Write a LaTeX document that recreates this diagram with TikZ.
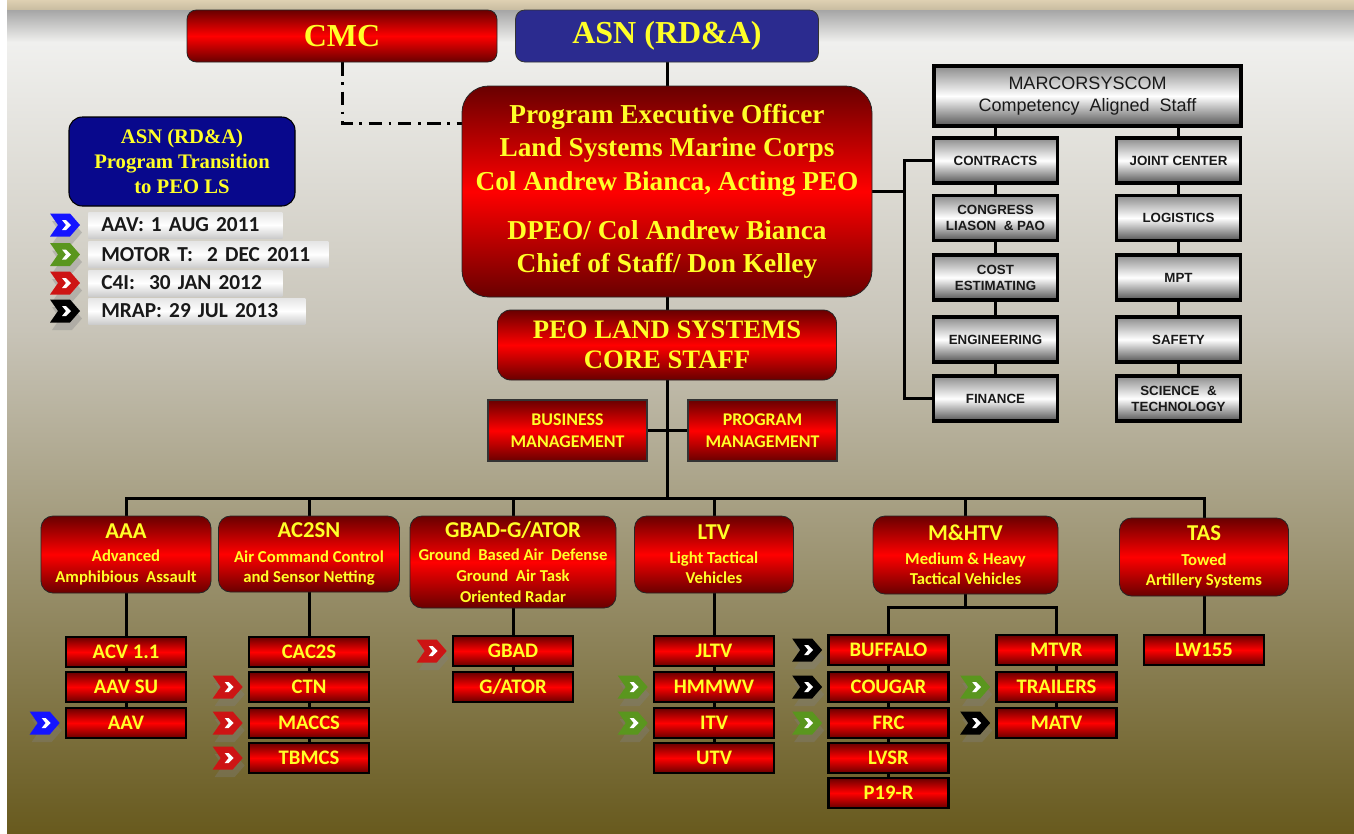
\documentclass[tikz,border=0pt]{standalone}
\usepackage{fontspec}
\setmainfont{Liberation Serif}
\newfontfamily\calfont{Carlito}
\newfontfamily\arifont{Liberation Sans}
\usetikzlibrary{calc}
\pgfdeclarelayer{bg}
\pgfdeclarelayer{lines}
\pgfsetlayers{bg,lines,main}
\definecolor{dred}{RGB}{105,0,0}
\definecolor{bred}{RGB}{255,0,0}
\definecolor{ylw}{RGB}{255,255,40}
\definecolor{navyA}{RGB}{43,43,143}
\definecolor{navyB}{RGB}{8,8,140}
\definecolor{chblue}{RGB}{20,20,255}
\definecolor{chgreen}{RGB}{90,150,30}
\definecolor{chred}{RGB}{205,20,20}
\definecolor{olivebg}{RGB}{104,90,30}
\definecolor{midbg}{RGB}{200,196,184}
\definecolor{lightbg}{RGB}{240,240,238}
\definecolor{beigeA}{RGB}{222,208,178}
\definecolor{beigeB}{RGB}{200,188,160}
\definecolor{gtop}{RGB}{140,140,140}
\definecolor{gbot}{RGB}{85,85,85}
\definecolor{darktxt}{RGB}{25,25,25}
\tikzset{
  conn/.style={line width=2.25pt, black},
  redshade/.style={top color=dred, bottom color=dred, middle color=bred},
  redround/.style={redshade, rounded corners=7pt, draw=black!85, line width=0.6pt, text=ylw, align=center, inner sep=0pt},
  serifbig/.style={font=\bfseries\fontsize{24}{26}\selectfont},
  lvltwo/.style={redround, rounded corners=9pt, font=\calfont\bfseries\fontsize{12.5}{15.5}\selectfont},
  redrect/.style={redshade, draw=black, line width=2pt, text=ylw, align=center, inner sep=0pt,
     minimum width=120*0.75pt, minimum height=30*0.75pt, font=\calfont\bfseries\fontsize{15.5}{16}\selectfont},
  mgmt/.style={redshade, draw=black!80, line width=0.8pt, text=ylw, align=center, inner sep=0pt,
     minimum height=61*0.75pt, font=\calfont\bfseries\fontsize{13.4}{16.5}\selectfont},
  graybox/.style={top color=gtop, bottom color=gbot, middle color=white, draw=black, line width=2.4pt,
     text=darktxt, align=center, inner sep=0pt, minimum width=124*0.75pt, minimum height=45*0.75pt,
     font=\arifont\bfseries\fontsize{10}{12}\selectfont},
  legbox/.style={top color=gray!20, bottom color=gray!40, middle color=white, anchor=west,
     inner ysep=0pt, inner xsep=13*0.75pt, align=left,
     minimum height=26*0.75pt, text=darktxt, font=\calfont\bfseries\fontsize{16}{18}\selectfont},
}
\newcommand\mychev[3]{%
  \begin{scope}[shift={($(#1.west)+(#2,0)$)}]
    \fill[gray, opacity=0.35] (2,-4) -- (22,-4) -- (32,7.5) -- (22,19) -- (2,19) -- (10,7.5) -- cycle;
    \fill[#3] (0,-11.5) -- (20,-11.5) -- (30,0) -- (20,11.5) -- (0,11.5) -- (8,0) -- cycle;
    \fill[white] (12,-5) -- (16,-5) -- (21,0) -- (16,5) -- (12,5) -- (16,0) -- cycle;
  \end{scope}}
\begin{document}
\begin{tikzpicture}[x=0.75pt,y=-0.75pt]
\useasboundingbox (0,0) rectangle (1354,833);
\begin{pgfonlayer}{bg}
  \fill[white] (0,0) rectangle (1354,833);
  \shade[top color=beigeA, bottom color=beigeB] (7,0) rectangle (1354,10);
  \shade[top color=gray!70, bottom color=lightbg] (7,10) rectangle (1354,42);
  \shade[top color=lightbg, bottom color=midbg] (7,42) rectangle (1354,330);
  \shade[top color=midbg, bottom color=olivebg] (7,330) rectangle (1354,833);
\end{pgfonlayer}

% top level
\node[redround, serifbig, minimum width=310*0.75pt, minimum height=52*0.75pt] (cmc) at (342,36) {CMC};
\node[fill=navyA, draw=black!80, line width=0.6pt, rounded corners=7pt, text=ylw, serifbig, inner sep=0pt,
      minimum width=303*0.75pt, minimum height=52*0.75pt] (asn) at (667,36) {ASN (RD\&A)};
\node[redround, rounded corners=20pt, minimum width=410*0.75pt, minimum height=211*0.75pt,
      font=\bfseries\fontsize{20.5}{25}\selectfont] (peo) at (667,191.5)
  {Program Executive Officer\\Land Systems Marine Corps\\Col Andrew Bianca, Acting PEO\\[12pt]DPEO/ Col Andrew Bianca\\Chief of Staff/ Don Kelley};
\node[redround, rounded corners=10pt, minimum width=339*0.75pt, minimum height=70*0.75pt,
      font=\bfseries\fontsize{20}{22.5}\selectfont] (core) at (667,345) {PEO LAND SYSTEMS\\CORE STAFF};
\node[mgmt, minimum width=159*0.75pt] (biz) at (567.5,430.5) {BUSINESS\\MANAGEMENT};
\node[mgmt, minimum width=149*0.75pt] (prog) at (762.5,430.5) {PROGRAM\\MANAGEMENT};

% legend
\node[fill=navyB, draw=black, line width=0.8pt, rounded corners=10pt, text=ylw, align=center, inner sep=0pt,
      minimum width=226*0.75pt, minimum height=89*0.75pt, font=\bfseries\fontsize{15.5}{18.5}\selectfont]
      (legend) at (182,161.5) {ASN (RD\&A)\\Program Transition\\to PEO LS};
\node[legbox, minimum width=194*0.75pt, text width=168*0.75pt] (lab1) at (88,225) {AAV: 1 AUG 2011};
\node[legbox, minimum width=240*0.75pt, text width=214*0.75pt] (lab2) at (88,254.5) {MOTOR T:\ \ 2 DEC 2011};
\node[legbox, minimum width=194*0.75pt, text width=168*0.75pt] (lab3) at (88,283) {C4I:\ \ 30 JAN 2012};
\node[legbox, minimum width=217*0.75pt, text width=191*0.75pt] (lab4) at (88,311) {MRAP: 29 JUL 2013};

% MARCORSYSCOM
\node[graybox, minimum width=307*0.75pt, minimum height=60*0.75pt, font=\arifont\fontsize{13.5}{17}\selectfont]
      (marcor) at (1087.5,96) {MARCORSYSCOM\\Competency\ \ Aligned\ \ Staff};
\node[graybox] (contracts) at (995.5,160.5) {CONTRACTS};
\node[graybox] (congress) at (995.5,218) {CONGRESS\\LIASON\ \ \&\ PAO};
\node[graybox] (cost) at (995.5,277.5) {COST\\ESTIMATING};
\node[graybox] (eng) at (995.5,339.5) {ENGINEERING};
\node[graybox] (finance) at (995.5,398.5) {FINANCE};
\node[graybox] (jc) at (1178.5,160.5) {JOINT CENTER};
\node[graybox] (logi) at (1178.5,218) {LOGISTICS};
\node[graybox] (mpt) at (1178.5,277.5) {MPT};
\node[graybox] (safety) at (1178.5,339.5) {SAFETY};
\node[graybox] (scitech) at (1178.5,398.5) {SCIENCE\ \ \&\\TECHNOLOGY};

% level 2
\node[lvltwo, minimum width=170*0.75pt, minimum height=77*0.75pt] (aaa) at (126,554.5)
  {{\fontsize{17}{17}\selectfont AAA}\\[2pt]Advanced\\Amphibious\ \ Assault};
\node[lvltwo, minimum width=181*0.75pt, minimum height=76*0.75pt] (ac2sn) at (309,554)
  {{\fontsize{17}{17}\selectfont AC2SN}\\[3pt]Air Command Control\\and Sensor Netting};
\node[lvltwo, minimum width=206*0.75pt, minimum height=92*0.75pt] (gbadg) at (513,562)
  {{\fontsize{17}{17}\selectfont GBAD-G/ATOR}\\[2pt]Ground\ \ Based Air\ \ Defense\\Ground\ \ Air Task\\Oriented Radar};
\node[lvltwo, minimum width=159*0.75pt, minimum height=77*0.75pt] (ltv) at (714,554.5)
  {{\fontsize{17}{17}\selectfont LTV}\\[2pt]Light Tactical\\Vehicles};
\node[lvltwo, minimum width=185*0.75pt, minimum height=78*0.75pt] (mhtv) at (965.5,555)
  {{\fontsize{17}{17}\selectfont M\&HTV}\\[2pt]Medium \& Heavy\\Tactical Vehicles};
\node[lvltwo, minimum width=169*0.75pt, minimum height=78*0.75pt] (tas) at (1204,557)
  {{\fontsize{17}{17}\selectfont TAS}\\[3pt]Towed\\Artillery Systems};

% level 3
\node[redrect] (acv) at (126,652) {ACV 1.1};
\node[redrect] (aavsu) at (126,687) {AAV SU};
\node[redrect] (aav) at (126,723) {AAV};
\node[redrect] (cac2s) at (309,652) {CAC2S};
\node[redrect] (ctn) at (309,687) {CTN};
\node[redrect] (maccs) at (309,723) {MACCS};
\node[redrect] (tbmcs) at (309,758) {TBMCS};
\node[redrect] (gbad) at (513,651) {GBAD};
\node[redrect] (gator) at (513,687) {G/ATOR};
\node[redrect] (jltv) at (714,651) {JLTV};
\node[redrect] (hmmwv) at (714,687) {HMMWV};
\node[redrect] (itv) at (714,723) {ITV};
\node[redrect] (utv) at (714,758) {UTV};
\node[redrect] (buffalo) at (888.5,650) {BUFFALO};
\node[redrect] (cougar) at (888.5,687) {COUGAR};
\node[redrect] (frc) at (888.5,723) {FRC};
\node[redrect] (lvsr) at (888.5,758) {LVSR};
\node[redrect] (p19) at (888.5,793) {P19-R};
\node[redrect] (mtvr) at (1056.5,650) {MTVR};
\node[redrect] (trailers) at (1056.5,687) {TRAILERS};
\node[redrect] (matv) at (1056.5,723) {MATV};
\node[redrect] (lw) at (1204,650) {LW155};

% connectors
\begin{pgfonlayer}{lines}
  \draw[conn, dash pattern=on 10pt off 5pt on 2pt off 5pt]
     (cmc.south) |- ($(peo.north west)!0.18!(peo.south west)$);
  \draw[conn] (asn.south) -- (peo.north);
  \draw[conn] (peo.south) -- (core.north);
  \coordinate (bus) at (667,498);
  \draw[conn] (core.south) -- (bus);
  \draw[conn] (biz.east) -- (prog.west);
  \foreach \n in {aaa,ac2sn,gbadg,ltv,mhtv,tas} \draw[conn] (\n.north) |- (bus);
  \draw[conn] (aaa.south) -- (aav.north);
  \draw[conn] (ac2sn.south) -- (tbmcs.north);
  \draw[conn] (gbadg.south) -- (gator.north);
  \draw[conn] (ltv.south) -- (utv.north);
  \coordinate (mj) at (965.5,607);
  \draw[conn] (mhtv.south) -- (mj);
  \draw[conn] (buffalo.north) |- (mj) -| (mtvr.north);
  \draw[conn] (buffalo.south) -- (p19.north);
  \draw[conn] (mtvr.south) -- (matv.north);
  \draw[conn] (tas.south) -- (lw.north);
  \draw[conn] (marcor.south -| contracts.north) -- (finance.north);
  \draw[conn] (marcor.south -| jc.north) -- (scitech.north);
  \coordinate (pj) at (904,191.5);
  \draw[conn] (peo.east) -- (pj);
  \draw[conn] (contracts.west) -| (pj);
  \draw[conn] (finance.west) -| (pj);
\end{pgfonlayer}

% chevrons
\mychev{lab1}{-38}{chblue}
\mychev{lab2}{-38}{chgreen}
\mychev{lab3}{-38}{chred}
\mychev{lab4}{-38}{black}
\mychev{aav}{-35}{chblue}
\mychev{ctn}{-35}{chred}
\mychev{maccs}{-35}{chred}
\mychev{tbmcs}{-35}{chred}
\mychev{gbad}{-35}{chred}
\mychev{hmmwv}{-35}{chgreen}
\mychev{itv}{-35}{chgreen}
\mychev{buffalo}{-35}{black}
\mychev{cougar}{-35}{black}
\mychev{frc}{-35}{chgreen}
\mychev{trailers}{-35}{chgreen}
\mychev{matv}{-35}{black}
\end{tikzpicture}
\end{document}
